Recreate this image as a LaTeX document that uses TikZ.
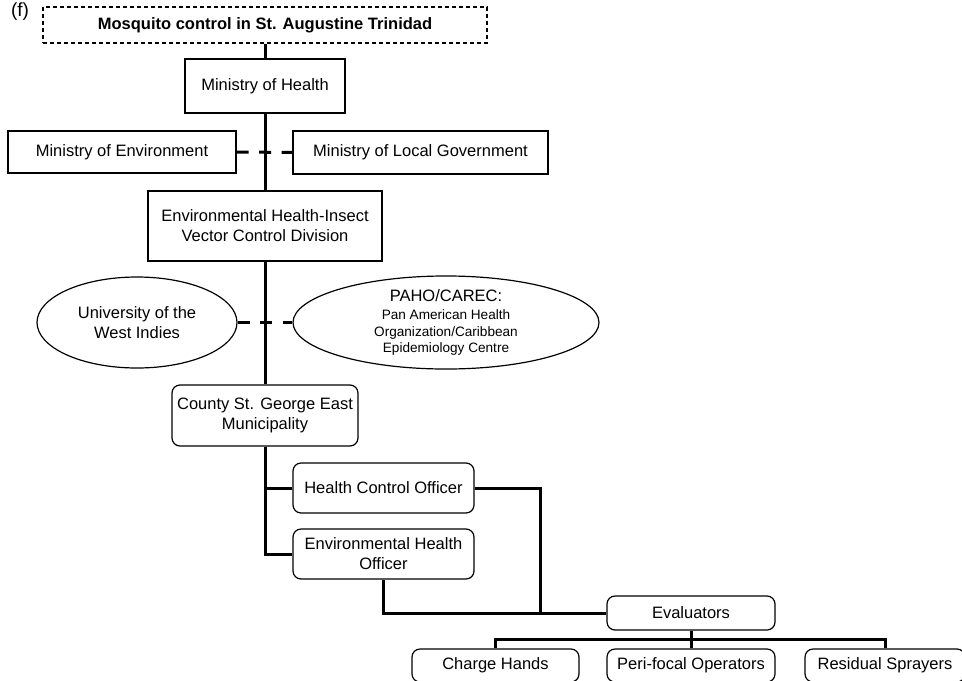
\documentclass[tikz,border=0pt]{standalone}
\usepackage{fontspec}
\setmainfont{Liberation Sans}
\usetikzlibrary{shapes.geometric}
\newcommand{\orgfont}{\fontsize{8.25}{10}\selectfont}
\newcommand{\smallorg}{\fontsize{6.8}{8.3}\selectfont}

\begin{document}
\begin{tikzpicture}[x=0.5pt, y=-0.5pt, line join=miter,
  every node/.style={font=\orgfont, align=center, inner sep=0pt},
  boxsize/.style 2 args={minimum width=#1*0.5pt, minimum height=#2*0.5pt},
  orgbox/.style={draw, line width=0.6pt},
  roundbox/.style={orgbox, rounded corners=4pt},
  partner/.style={orgbox, ellipse},
  spine/.style={line width=1.5pt},
  tie/.style={line width=1.5pt, dash pattern=on 6pt off 5.25pt}]
  \useasboundingbox (0,0) rectangle (962,680);

  % top of the chart
  \node[font=\fontsize{9.5}{11}\selectfont] (tag) at (20,12) {(f)};
  \node[orgbox, dash pattern=on 2pt off 1.5pt, boxsize={444}{36}, font=\orgfont\bfseries]
    (title) at (265,25) {Mosquito control in St. Augustine Trinidad};
  \node[orgbox, boxsize={160}{54}] (moh) at (265,86) {Ministry of Health};
  \node[orgbox, boxsize={228}{42}] (moe) at (122,152) {Ministry of Environment};
  \node[orgbox, boxsize={255}{43}] (molg) at (420.5,152.5) {Ministry of Local Government};
  \node[orgbox, boxsize={234}{70}] (ehi) at (265,226)
    {Environmental Health-Insect\\Vector Control Division};

  % partners
  \node[partner, boxsize={200}{91}] (uwi) at (137,322.5) {University of the\\West Indies};
  \node[partner, boxsize={306}{90}] (paho) at (446,322.5)
    {PAHO/CAREC:\\[-1pt]\smallorg Pan American Health\\[-1.75pt]\smallorg Organization/Caribbean\\[-1.75pt]
     \smallorg Epidemiology Centre};

  % municipality and officers
  \node[roundbox, boxsize={186}{61}] (county) at (265,415.5)
    {County St. George East\\Municipality};
  \node[roundbox, boxsize={181}{50}] (hco) at (383.5,488) {Health Control Officer};
  \node[roundbox, boxsize={181}{50}] (eho) at (383.5,554) {Environmental Health\\Officer};
  \node[roundbox, boxsize={168}{34}] (eval) at (691,613) {Evaluators};
  \node[roundbox, boxsize={167}{33}] (charge) at (495.5,665.5) {Charge Hands};
  \node[roundbox, boxsize={168}{33}] (peri) at (691,665.5) {Peri-focal Operators};
  \node[roundbox, boxsize={160}{33}] (resid) at (885,665.5) {Residual Sprayers};

  % links
  \draw[tie] (moe.east) -- (molg.west);
  \draw[tie] (uwi.east) -- (paho.west);
  \draw[spine] (title.south) -- (moh.north);
  \draw[spine] (moh.south) -- (ehi.north);
  \draw[spine] (ehi.south) -- (county.north);
  \draw[spine] (county.south) |- (hco.west);
  \draw[spine] (county.south) |- (eho.west);
  \coordinate (merge) at (540,613);
  \draw[spine] (hco.east) -| (merge);
  \draw[spine] (eho.south) |- (eval.west);
  \foreach \k in {charge,peri,resid}
    \draw[spine] (eval.south) -- ++(0,9) -| (\k.north);
\end{tikzpicture}
\end{document}
